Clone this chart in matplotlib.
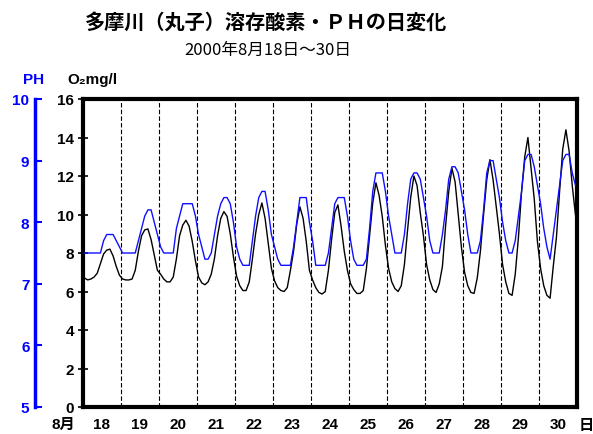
import numpy as np
import matplotlib.pyplot as plt

jp = ['Noto Sans CJK JP', 'DejaVu Sans']
lat = ['Liberation Sans', 'Noto Sans CJK JP', 'DejaVu Sans']

# days shown on the x axis (August 2000)
days = ['18', '19', '20', '21', '22', '23', '24', '25', '26', '27', '28', '29', '30']
# readings taken every 2 hours, hour of day
hours = [1, 3, 5, 7, 9, 11, 13, 15, 17, 19, 21, 23]

# dissolved oxygen, mg/l, one row per day
do_by_day = [
    [6.7, 6.6, 6.65, 6.75, 6.95, 7.45, 7.95, 8.15, 8.2, 7.85, 7.3, 6.85],
    [6.65, 6.6, 6.6, 6.65, 7.1, 8.1, 8.9, 9.2, 9.25, 8.7, 7.9, 7.1],
    [6.9, 6.65, 6.5, 6.5, 6.75, 7.7, 8.9, 9.45, 9.7, 9.4, 8.6, 7.6],
    [6.75, 6.45, 6.35, 6.5, 6.9, 7.7, 8.9, 9.8, 10.15, 9.9, 9.0, 7.8],
    [6.8, 6.3, 6.05, 6.05, 6.5, 7.7, 9.0, 10.0, 10.6, 9.8, 8.5, 7.2],
    [6.55, 6.2, 6.05, 6.0, 6.2, 7.1, 8.1, 9.5, 10.4, 9.8, 8.6, 7.1],
    [6.6, 6.2, 5.95, 5.87, 6.0, 7.1, 8.7, 10.1, 10.5, 9.4, 8.1, 7.1],
    [6.4, 6.1, 5.9, 5.9, 6.05, 7.2, 8.9, 10.6, 11.65, 11.0, 9.9, 8.4],
    [7.2, 6.5, 6.15, 6.0, 6.3, 7.4, 9.2, 10.9, 12.0, 11.5, 10.1, 8.9],
    [7.4, 6.6, 6.1, 5.95, 6.4, 7.3, 9.4, 11.2, 12.4, 11.7, 10.0, 8.3],
    [7.0, 6.3, 5.95, 5.9, 6.7, 8.1, 10.0, 11.8, 12.85, 11.8, 10.4, 9.0],
    [7.4, 6.5, 5.9, 5.8, 6.9, 8.8, 11.2, 13.0, 14.0, 12.4, 10.8, 8.6],
    [7.2, 6.3, 5.8, 5.65, 7.3, 8.8, 11.2, 13.4, 14.4, 13.3, 11.5, 10.0],
]

# pH, one row per day
ph_by_day = [
    [7.5, 7.5, 7.5, 7.5, 7.5, 7.5, 7.7, 7.8, 7.8, 7.8, 7.7, 7.6],
    [7.5, 7.5, 7.5, 7.5, 7.5, 7.7, 7.9, 8.1, 8.2, 8.2, 8.0, 7.8],
    [7.6, 7.5, 7.5, 7.5, 7.5, 7.9, 8.1, 8.3, 8.3, 8.3, 8.3, 8.1],
    [7.8, 7.6, 7.4, 7.4, 7.5, 7.8, 8.1, 8.3, 8.4, 8.4, 8.3, 8.0],
    [7.6, 7.4, 7.3, 7.3, 7.3, 7.7, 8.1, 8.4, 8.5, 8.5, 8.2, 7.8],
    [7.6, 7.4, 7.3, 7.3, 7.3, 7.3, 7.6, 8.0, 8.4, 8.4, 8.4, 8.0],
    [7.7, 7.3, 7.3, 7.3, 7.3, 7.5, 7.9, 8.3, 8.4, 8.4, 8.4, 8.1],
    [7.7, 7.4, 7.3, 7.3, 7.3, 7.4, 7.9, 8.5, 8.8, 8.8, 8.8, 8.5],
    [8.1, 7.8, 7.5, 7.5, 7.5, 7.8, 8.3, 8.7, 8.8, 8.8, 8.7, 8.4],
    [8.1, 7.7, 7.5, 7.5, 7.5, 7.8, 8.2, 8.7, 8.9, 8.9, 8.8, 8.5],
    [8.2, 7.8, 7.5, 7.5, 7.5, 7.7, 8.2, 8.8, 9.0, 9.0, 8.7, 8.4],
    [8.0, 7.7, 7.5, 7.5, 7.7, 8.1, 8.5, 9.0, 9.1, 9.1, 8.9, 8.6],
    [8.3, 7.9, 7.6, 7.4, 7.8, 8.2, 8.6, 9.0, 9.1, 9.1, 8.8, 8.6],
]

t = np.array([d + h / 24 for d in range(len(days)) for h in hours])
do = np.concatenate(do_by_day)
ph = np.concatenate(ph_by_day)

W, H = 593, 435
fig = plt.figure(figsize=(W / 100, H / 100), dpi=100)
ax = fig.add_axes([83 / W, 27 / H, 494 / W, 308 / H])

ax.plot(t, do, color='black', lw=1.0, zorder=3)
ax.set_xlim(0, len(days))
ax.set_ylim(0, 16)
ax.set_yticks(np.arange(0, 17, 2))
ax.set_xticks(np.arange(0, len(days) + 1))
ax.set_xticklabels([])
ax.set_xticks(np.arange(len(days)) + 0.5, minor=True)
ax.set_xticklabels(days, minor=True)
ax.tick_params(axis='x', which='both', length=0, pad=7)
ax.grid(axis='x', which='major', color='black', ls=(0, (4, 2)), lw=0.8)
ax.tick_params(axis='y', direction='inout', length=7, width=1.2, right=True, pad=3)
for lbl in ax.get_yticklabels() + ax.get_xticklabels(minor=True):
    lbl.set_fontweight('bold')
    lbl.set_fontsize(11)
    lbl.set_family(lat)
for s in ax.spines.values():
    s.set_linewidth(3)

ax_ph = ax.twinx()
ax_ph.plot(t, ph, color='#1010ff', lw=1.0)
ax_ph.set_ylim(5, 10)
ax_ph.set_yticks(np.arange(5, 11, 1))
ax_ph.yaxis.set_ticks_position('left')
ax_ph.yaxis.set_label_position('left')
for side in ['right', 'top', 'bottom']:
    ax_ph.spines[side].set_visible(False)
ax_ph.spines['left'].set_visible(True)
ax_ph.spines['left'].set_position(('outward', 48 * 0.72))
ax_ph.spines['left'].set_color('blue')
ax_ph.spines['left'].set_linewidth(2.5)
ax_ph.tick_params(axis='y', colors='blue', direction='in', length=5, width=1.5, pad=4)
for lbl in ax_ph.get_yticklabels():
    lbl.set_fontweight('bold')
    lbl.set_fontsize(11)
    lbl.set_family(lat)

fig.text(266 / W, 1 - 22 / H, '多摩川（丸子）溶存酸素・ＰＨの日変化', ha='center', va='center',
         fontsize=14.5, fontweight='bold', family=jp)
fig.text(268 / W, 1 - 50 / H, '2000年8月18日～30日', ha='center', va='center',
         fontsize=12, family=jp)
fig.text(34 / W, 1 - 80 / H, 'PH', ha='center', va='center', color='blue',
         fontsize=11, fontweight='bold', family=lat)
fig.text(92 / W, 1 - 80 / H, 'O₂mg/l', ha='center', va='center',
         fontsize=11, fontweight='bold', family=lat)
fig.text(63 / W, 1 - 425 / H, '8月', ha='center', va='center',
         fontsize=11, fontweight='bold', family=lat)
fig.text(586 / W, 1 - 425 / H, '日', ha='center', va='center',
         fontsize=11, fontweight='bold', family=jp)

fig.savefig('out.png', dpi=100)
